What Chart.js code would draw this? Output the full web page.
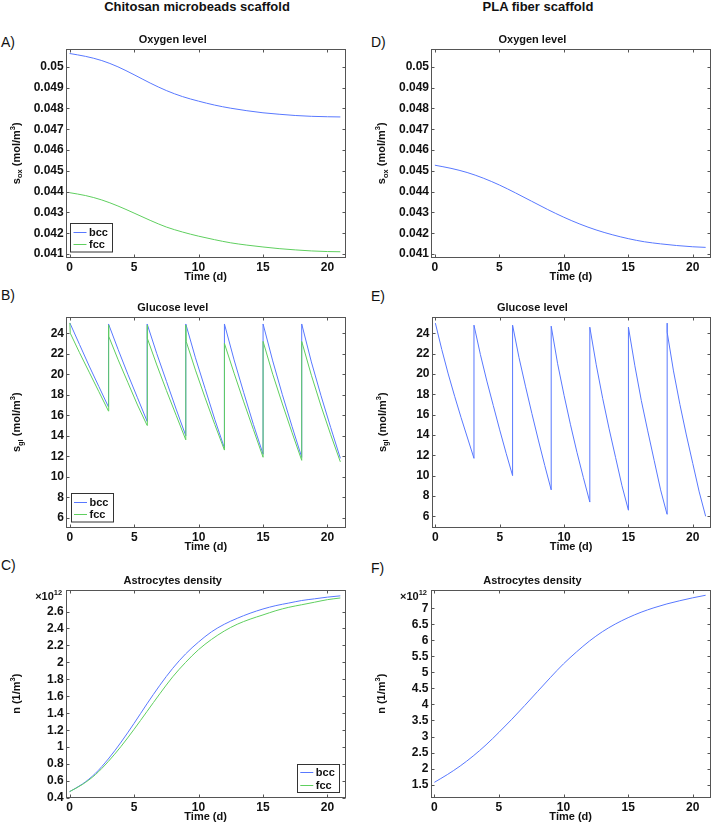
<!DOCTYPE html>
<html>
<head>
<meta charset="utf-8">
<script src="https://cdn.jsdelivr.net/npm/chart.js@4.4.1/dist/chart.umd.min.js"></script>
<style>
  body { margin: 0; background: #fff; width: 714px; height: 826px; position: relative; overflow: hidden;
         font-family: "Liberation Sans", Arial, Helvetica, sans-serif; color: #111; }
  canvas { position: absolute; }
  .hdr { position: absolute; top: 0; width: 240px; text-align: center; font-weight: bold; font-size: 13px; line-height: 14px; }
  .lbl { position: absolute; font-size: 14px; line-height: 16px; }
</style>
</head>
<body>
<div class="hdr" style="left:77px">Chitosan microbeads scaffold</div>
<div class="hdr" style="left:418px">PLA fiber scaffold</div>
<div class="lbl" style="left:1px;top:34px">A)</div>
<div class="lbl" style="left:1px;top:287px">B)</div>
<div class="lbl" style="left:1px;top:557px">C)</div>
<div class="lbl" style="left:371px;top:34px">D)</div>
<div class="lbl" style="left:371px;top:288px">E)</div>
<div class="lbl" style="left:371px;top:560px">F)</div>

<canvas id="cA" width="354" height="256" style="left:0;top:30px"></canvas>
<canvas id="cB" width="354" height="258" style="left:0;top:298px"></canvas>
<canvas id="cC" width="354" height="255" style="left:0;top:571px"></canvas>
<canvas id="cD" width="360" height="256" style="left:354px;top:30px"></canvas>
<canvas id="cE" width="360" height="258" style="left:354px;top:298px"></canvas>
<canvas id="cF" width="360" height="255" style="left:354px;top:571px"></canvas>

<script>
const dayTicks = [0, 5, 10, 15, 20];

// oxygen level (mol/m3), sampled every 1.25 d
const tOx = [0, 1.25, 2.5, 3.75, 5, 6.25, 7.5, 8.75, 10, 11.25, 12.5, 13.75, 15, 16.25, 17.5, 18.75, 20, 21];
const oxBccA = [0.05064, 0.05050, 0.05030, 0.05000, 0.04962, 0.04922, 0.04886, 0.04857, 0.04835, 0.04816,
                0.04801, 0.04789, 0.04779, 0.04772, 0.04766, 0.04762, 0.04760, 0.04759];
const oxFccA = [0.04395, 0.04381, 0.04360, 0.04331, 0.04297, 0.04262, 0.04230, 0.04206, 0.04186, 0.04169,
                0.04154, 0.04143, 0.04134, 0.04126, 0.04120, 0.04115, 0.04112, 0.04111];
const oxPlaD = [0.04527, 0.04512, 0.04492, 0.04465, 0.04432, 0.04394, 0.04354, 0.04314, 0.04277, 0.04244,
                0.04216, 0.04193, 0.04174, 0.04159, 0.04149, 0.04141, 0.04135, 0.04132];
const oxTicks = [0.041, 0.042, 0.043, 0.044, 0.045, 0.046, 0.047, 0.048, 0.049, 0.05];

// glucose level (mol/m3), medium refreshed every 3 d
const gluBccT = [0, 0.75, 1.5, 2.25, 3, 3, 3.75, 4.5, 5.25, 6, 6, 6.75, 7.5, 8.25, 9, 9, 9.75, 10.5, 11.25, 12,
                 12, 12.75, 13.5, 14.25, 15, 15, 15.75, 16.5, 17.25, 18, 18, 18.75, 19.5, 20.25, 21];
const gluBccB = [25, 22.9, 20.8, 18.8, 16.8, 24.9, 22.4, 20.0, 17.7, 15.4, 24.9, 22.0, 19.3, 16.6, 14.0,
                 24.9, 21.6, 18.6, 15.6, 12.8, 24.9, 21.4, 18.2, 15.1, 12.2, 24.9, 21.3, 18.0, 14.9, 11.9,
                 24.9, 21.2, 17.9, 14.8, 11.8];
const gluFccT = [0, 0.03, 0.75, 1.5, 2.25, 3, 3, 3.03, 3.75, 4.5, 5.25, 6, 6, 6.03, 6.75, 7.5, 8.25, 9,
                 9, 9.03, 9.75, 10.5, 11.25, 12, 12, 12.75, 13.5, 14.25, 15, 15, 15.75, 16.5, 17.25, 18,
                 18, 18.75, 19.5, 20.25, 21];
const gluFccB = [25, 24.0, 22.1, 20.2, 18.3, 16.4, 24.8, 23.7, 21.4, 19.2, 17.0, 15.0, 24.8, 23.5, 20.9, 18.4, 16.0, 13.6,
                 24.8, 23.2, 20.4, 17.7, 15.1, 12.6, 23.0, 20.1, 17.3, 14.6, 11.9, 23.2, 20.0, 17.1, 14.3, 11.6,
                 23.2, 19.9, 16.9, 14.1, 11.45];
const gluPlaT = [0, 0.5, 1, 1.5, 2, 2.5, 3, 3, 3.5, 4, 4.5, 5, 5.5, 6, 6, 6.5, 7, 7.5, 8, 8.5, 9,
                 9, 9.5, 10, 10.5, 11, 11.5, 12, 12, 12.5, 13, 13.5, 14, 14.5, 15, 15, 15.5, 16, 16.5, 17, 17.5, 18,
                 18, 18.02, 18.5, 19, 19.5, 20, 20.5, 21];
const gluPlaE = [25, 22.4, 20.0, 17.8, 15.7, 13.7, 11.7, 24.8, 21.9, 19.3, 16.9, 14.5, 12.2, 10.0,
                 24.8, 21.6, 18.8, 16.1, 13.5, 11.0, 8.6, 24.7, 21.0, 17.9, 15.0, 12.3, 9.8, 7.4,
                 24.6, 20.9, 17.6, 14.6, 11.8, 9.0, 6.6, 24.6, 20.8, 17.4, 14.4, 11.5, 8.6, 6.2,
                 25.0, 24.1, 20.3, 17.0, 14.0, 11.2, 8.4, 6.0];
const gluTicks = [6, 8, 10, 12, 14, 16, 18, 20, 22, 24];

// astrocytes density (x1e12 1/m3), daily
const tCell = [0, 1, 2, 3, 4, 5, 6, 7, 8, 9, 10, 11, 12, 13, 14, 15, 16, 17, 18, 19, 20, 21];
const cellBccC = [0.475, 0.565, 0.69, 0.86, 1.06, 1.28, 1.51, 1.73, 1.93, 2.10, 2.24, 2.36, 2.45, 2.52, 2.58,
                  2.63, 2.67, 2.70, 2.73, 2.75, 2.77, 2.785];
const cellFccC = [0.475, 0.56, 0.675, 0.83, 1.01, 1.21, 1.42, 1.63, 1.83, 2.00, 2.15, 2.27, 2.37, 2.45, 2.51,
                  2.56, 2.61, 2.65, 2.68, 2.71, 2.74, 2.76];
const cellPlaF = [1.57, 1.81, 2.08, 2.39, 2.74, 3.13, 3.54, 3.97, 4.41, 4.85, 5.27, 5.64, 5.98, 6.27, 6.51,
                  6.71, 6.88, 7.02, 7.14, 7.24, 7.33, 7.41];
const cellTicksC = [0.4, 0.6, 0.8, 1, 1.2, 1.4, 1.6, 1.8, 2, 2.2, 2.4, 2.6];
const cellTicksF = [1.5, 2, 2.5, 3, 3.5, 4, 4.5, 5, 5.5, 6, 6.5, 7];

const BLUE = '#5878ff';
const GREEN = '#5fcf5f';
const FONT = '"Liberation Sans", Arial, Helvetica, sans-serif';

const pts = (xs, ys) => xs.map((x, i) => ({x: x, y: ys[i]}));

// matlab-like frame, inward ticks, y title with sub/superscripts, exponent, legend
const matlabAxes = {
  id: 'matlabAxes',
  afterDatasetsDraw(chart, args, opts) {
    const {ctx, chartArea: a, scales} = chart;
    ctx.save();
    ctx.strokeStyle = '#555';
    ctx.lineWidth = 1;
    const L = Math.round(a.left) + 0.5, R = Math.round(a.right) - 0.5;
    const T = Math.round(a.top) + 0.5, B = Math.round(a.bottom) - 0.5;
    ctx.strokeRect(L, T, R - L, B - T);
    ctx.beginPath();
    scales.x.ticks.forEach(t => {
      const px = Math.round(scales.x.getPixelForValue(t.value)) + 0.5;
      ctx.moveTo(px, B); ctx.lineTo(px, B - 3);
      ctx.moveTo(px, T); ctx.lineTo(px, T + 3);
    });
    scales.y.ticks.forEach(t => {
      const py = Math.round(scales.y.getPixelForValue(t.value)) + 0.5;
      ctx.moveTo(L, py); ctx.lineTo(L + 3, py);
      ctx.moveTo(R, py); ctx.lineTo(R - 3, py);
    });
    ctx.stroke();
    ctx.restore();
  },
  afterDraw(chart, args, opts) {
    const {ctx, chartArea: a} = chart;
    ctx.save();
    ctx.fillStyle = '#111';
    // y title
    const parts = opts.yTitle;
    let total = 0;
    parts.forEach(p => { ctx.font = 'bold ' + p.s + 'px ' + FONT; p.w = ctx.measureText(p.t).width; total += p.w; });
    ctx.translate(a.left - 50, (a.top + a.bottom) / 2);
    ctx.rotate(-Math.PI / 2);
    ctx.textBaseline = 'alphabetic';
    let cx = -total / 2;
    parts.forEach(p => {
      ctx.font = 'bold ' + p.s + 'px ' + FONT;
      ctx.fillText(p.t, cx, 4 + (p.dy || 0));
      cx += p.w;
    });
    ctx.setTransform(1, 0, 0, 1, 0, 0);
    // exponent
    if (opts.exponent) {
      ctx.textBaseline = 'alphabetic';
      ctx.font = 'bold 7.5px ' + FONT;
      const w2 = ctx.measureText(opts.exponent).width;
      ctx.font = 'bold 11px ' + FONT;
      const w1 = ctx.measureText('\u00d710').width;
      const xr = a.left - 3.5;
      ctx.fillText('\u00d710', xr - w2 - w1, a.top + 10);
      ctx.font = 'bold 7.5px ' + FONT;
      ctx.fillText(opts.exponent, xr - w2, a.top + 5);
    }
    // legend
    const lg = opts.legend;
    if (lg) {
      const x0 = lg.corner === 'br' ? a.right - lg.dx - lg.w : a.left + lg.dx;
      const y0 = a.bottom - lg.dy - lg.h;
      const bx = Math.round(x0) + 0.5, by = Math.round(y0) + 0.5;
      ctx.fillStyle = '#fff';
      ctx.fillRect(bx, by, lg.w, lg.h);
      ctx.strokeStyle = '#333';
      ctx.lineWidth = 1;
      ctx.strokeRect(bx, by, lg.w, lg.h);
      ctx.font = 'bold 11px ' + FONT;
      ctx.textBaseline = 'middle';
      chart.data.datasets.forEach((ds, i) => {
        const ry = Math.round(y0 + 8.5 + i * 12.6) + 0.5;
        ctx.strokeStyle = ds.borderColor;
        ctx.beginPath();
        ctx.moveTo(x0 + 3.5, ry); ctx.lineTo(x0 + 16.5, ry);
        ctx.stroke();
        ctx.fillStyle = '#111';
        ctx.fillText(ds.label, x0 + 19, ry + 0.5);
      });
    }
    ctx.restore();
  }
};

function makePanel(id, p) {
  const datasets = p.series.map(s => ({
    label: s.label,
    data: s.data,
    showLine: true,
    borderColor: s.color,
    backgroundColor: s.color,
    borderWidth: 1,
    pointRadius: 0,
    order: s.order,
    cubicInterpolationMode: p.smooth ? 'monotone' : 'default',
    tension: 0
  }));
  return new Chart(document.getElementById(id), {
    type: 'scatter',
    data: { datasets: datasets },
    options: {
      responsive: false,
      animation: false,
      events: [],
      layout: { padding: { left: 0, right: p.padRight, top: 0, bottom: 0 } },
      scales: {
        x: {
          type: 'linear', min: -0.3, max: 21.4,
          afterBuildTicks: s => { s.ticks = dayTicks.map(v => ({value: v})); },
          afterFit: s => { s.height = 28; },
          grid: { display: false, drawTicks: false },
          border: { display: false },
          ticks: { padding: 2, color: '#111', autoSkip: false, maxRotation: 0,
                   font: { family: FONT, size: 12, weight: 'bold' } },
          title: { display: true, text: 'Time (d)', color: '#111',
                   font: { family: FONT, size: 11, weight: 'bold' }, padding: { top: 0, bottom: 2.4 } }
        },
        y: {
          type: 'linear', min: p.yMin, max: p.yMax,
          afterBuildTicks: s => { s.ticks = p.yTicks.map(v => ({value: v})); },
          afterFit: s => { s.width = p.yWidth; },
          grid: { display: false, drawTicks: false },
          border: { display: false },
          ticks: { padding: 2, color: '#111', autoSkip: false,
                   font: { family: FONT, size: 12, weight: 'bold' },
                   callback: v => String(+v.toFixed(p.digits)) }
        }
      },
      plugins: {
        legend: { display: false },
        tooltip: { enabled: false },
        title: { display: true, text: p.title, color: '#111',
                 font: { family: FONT, size: 11, weight: 'bold' }, padding: { top: 3.4, bottom: 1.9 } },
        matlabAxes: { yTitle: p.yTitle, exponent: p.exponent, legend: p.legend }
      }
    },
    plugins: [matlabAxes]
  });
}

const oxTitle = () => [{t: 's', s: 11}, {t: 'ox', s: 7.5, dy: 2.5}, {t: ' (mol/m', s: 11}, {t: '3', s: 7.5, dy: -5}, {t: ')', s: 11}];
const glTitle = () => [{t: 's', s: 11}, {t: 'gl', s: 7.5, dy: 2.5}, {t: ' (mol/m', s: 11}, {t: '3', s: 7.5, dy: -5}, {t: ')', s: 11}];
const nTitle = () => [{t: 'n (1/m', s: 11}, {t: '3', s: 7.5, dy: -5}, {t: ')', s: 11}];

makePanel('cA', {
  title: 'Oxygen level', yMin: 0.04081, yMax: 0.05088, yTicks: oxTicks, digits: 3, yWidth: 65.7, padRight: 8.5,
  smooth: true, yTitle: oxTitle(),
  legend: { corner: 'bl', dx: 4.3, dy: 6.5, w: 42, h: 28.5 },
  series: [
    { label: 'bcc', data: pts(tOx, oxBccA), color: BLUE, order: 1 },
    { label: 'fcc', data: pts(tOx, oxFccA), color: GREEN, order: 0 }
  ]
});
makePanel('cB', {
  title: 'Glucose level', yMin: 5.0, yMax: 25.63, yTicks: gluTicks, digits: 0, yWidth: 66, padRight: 8.5,
  smooth: false, yTitle: glTitle(),
  legend: { corner: 'bl', dx: 4.5, dy: 6.5, w: 42, h: 28.5 },
  series: [
    { label: 'bcc', data: pts(gluBccT, gluBccB), color: BLUE, order: 1 },
    { label: 'fcc', data: pts(gluFccT, gluFccB), color: GREEN, order: 0 }
  ]
});
makePanel('cC', {
  title: 'Astrocytes density', yMin: 0.4, yMax: 2.86, yTicks: cellTicksC, digits: 1, yWidth: 65.7, padRight: 8.5,
  smooth: true, yTitle: nTitle(), exponent: '12',
  legend: { corner: 'br', dx: 6.7, dy: 6.5, w: 42, h: 28 },
  series: [
    { label: 'bcc', data: pts(tCell, cellBccC), color: BLUE, order: 1 },
    { label: 'fcc', data: pts(tCell, cellFccC), color: GREEN, order: 0 }
  ]
});
makePanel('cD', {
  title: 'Oxygen level', yMin: 0.04081, yMax: 0.05088, yTicks: oxTicks, digits: 3, yWidth: 77, padRight: 3.2,
  smooth: true, yTitle: oxTitle(),
  series: [ { label: 'bcc', data: pts(tOx, oxPlaD), color: BLUE, order: 0 } ]
});
makePanel('cE', {
  title: 'Glucose level', yMin: 4.85, yMax: 25.65, yTicks: gluTicks, digits: 0, yWidth: 77.5, padRight: 3.2,
  smooth: false, yTitle: glTitle(),
  series: [ { label: 'bcc', data: pts(gluPlaT, gluPlaE), color: BLUE, order: 0 } ]
});
makePanel('cF', {
  title: 'Astrocytes density', yMin: 1.08, yMax: 7.59, yTicks: cellTicksF, digits: 1, yWidth: 76.5, padRight: 3.2,
  smooth: true, yTitle: nTitle(), exponent: '12',
  series: [ { label: 'bcc', data: pts(tCell, cellPlaF), color: BLUE, order: 0 } ]
});
</script>
</body>
</html>
